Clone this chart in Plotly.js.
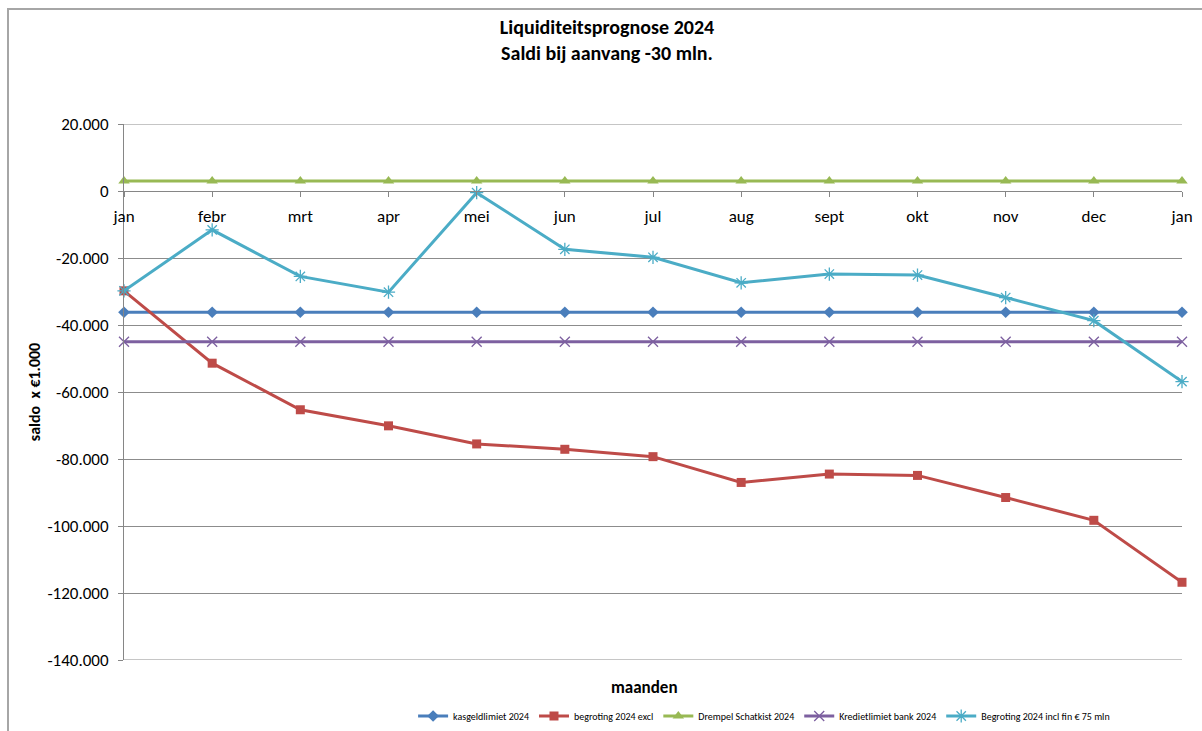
<!DOCTYPE html>
<html>
<head>
<meta charset="utf-8">
<script src="https://cdn.plot.ly/plotly-3.0.1.min.js"></script>
<style>
  html, body { margin: 0; padding: 0; background: #fff; }
  #wrap { position: relative; width: 1202px; height: 731px; overflow: hidden; }
  #frame { position: absolute; left: 7px; top: 8px; width: 1300px; height: 800px;
           border-left: 2px solid #a6a6a6; border-top: 2px solid #a6a6a6; pointer-events: none; }
  #chart { position: absolute; left: 0; top: 0; width: 1202px; height: 731px; }
</style>
</head>
<body>
<div id="wrap">
  <div id="chart"></div>
  <div id="frame"></div>
</div>
<script>
// ---- data ----
const months = ["jan", "febr", "mrt", "apr", "mei", "jun", "jul", "aug", "sept", "okt", "nov", "dec", "jan"];
const kasgeldlimiet = [-36200, -36200, -36200, -36200, -36200, -36200, -36200, -36200, -36200, -36200, -36200, -36200, -36200];
const begrotingExcl = [-29800, -51400, -65300, -70100, -75500, -77100, -79300, -87000, -84500, -84900, -91500, -98300, -116800];
const drempelSchatkist = [3000, 3000, 3000, 3000, 3000, 3000, 3000, 3000, 3000, 3000, 3000, 3000, 3000];
const kredietlimiet = [-45000, -45000, -45000, -45000, -45000, -45000, -45000, -45000, -45000, -45000, -45000, -45000, -45000];
const begrotingIncl = [-29800, -11600, -25500, -30200, -500, -17400, -19800, -27400, -24800, -25100, -31800, -38700, -56900];
const yTickVals = [20000, 0, -20000, -40000, -60000, -80000, -100000, -120000, -140000];
const yTickText = ["20.000", "0", "-20.000", "-40.000", "-60.000", "-80.000", "-100.000", "-120.000", "-140.000"];
const seriesNames = ["kasgeldlimiet 2024", "begroting 2024 excl", "Drempel Schatkist 2024", "Kredietlimiet bank 2024", "Begroting 2024 incl fin € 75 mln"];

const xIdx = months.map((m, i) => i);
const FONT = "Carlito, Calibri, 'Liberation Sans Narrow', 'Liberation Sans', Arial, sans-serif";

function trace(name, y, color, symbol, size, lineW) {
  return {
    x: xIdx, y: y, name: name, type: "scatter", mode: "lines+markers",
    line: { color: color, width: lineW || 3 },
    marker: { color: color, symbol: symbol, size: size, line: { color: color, width: (symbol.indexOf("open") >= 0 || symbol.indexOf("thin") >= 0) ? 1.3 : 0 } },
    cliponaxis: false, hoverinfo: "x+y"
  };
}

const data = [
  trace(seriesNames[0], kasgeldlimiet, "#4A7EBB", "diamond", 9),
  trace(seriesNames[1], begrotingExcl, "#BE4B48", "square", 9),
  trace(seriesNames[2], drempelSchatkist, "#98B954", "triangle-up", 10),
  trace(seriesNames[3], kredietlimiet, "#7D60A0", "x-thin-open", 10),
  trace(seriesNames[4], begrotingIncl, "#4BACC6", "asterisk-open", 11)
];

const layout = {
  width: 1202, height: 731,
  margin: { l: 124, r: 20, t: 124, b: 71, autoexpand: false },
  paper_bgcolor: "#ffffff", plot_bgcolor: "#ffffff",
  font: { family: FONT, size: 17, color: "#000" },
  showlegend: true,
  title: {
    text: "<b>Liquiditeitsprognose 2024</b><br><b>Saldi bij aanvang -30 mln.</b>",
    font: { family: FONT, size: 20, color: "#000" },
    xref: "container", x: 0.505, xanchor: "center",
    yref: "container", y: 0.954, yanchor: "middle"
  },
  xaxis: {
    range: [0, 12],
    tickvals: xIdx, ticktext: months,
    anchor: "free", position: 0.875,
    showline: true, linecolor: "#868686", linewidth: 1,
    ticks: "outside", ticklen: 5, tickcolor: "#868686",
    ticklabelstandoff: 5,
    showgrid: false, zeroline: false,
    tickfont: { family: FONT, size: 17, color: "#000" }
  },
  yaxis: {
    range: [-140000, 20000],
    tickvals: yTickVals, ticktext: yTickText,
    showline: true, linecolor: "#868686", linewidth: 1,
    ticks: "outside", ticklen: 5, tickcolor: "#868686",
    ticklabelstandoff: 6,
    showgrid: true, gridcolor: "#8c8c8c", gridwidth: 1,
    zeroline: false, automargin: true,
    tickfont: { family: FONT, size: 17, color: "#000" },
    title: { text: "<b>saldo  x €1.000</b>", font: { family: FONT, size: 16, color: "#000" }, standoff: 2 }
  },
  shapes: [
    { type: "line", xref: "paper", yref: "y", x0: 0, x1: 1, y0: -140000, y1: -140000, line: { color: "#8c8c8c", width: 1 } },
    { type: "line", xref: "paper", yref: "y", x0: 0, x1: 1, y0: 20000, y1: 20000, line: { color: "#8c8c8c", width: 1 } }
  ],
  annotations: [
    { text: "<b>maanden</b>", xref: "paper", yref: "paper", x: 0.4924, y: -0.052, showarrow: false,
      font: { family: FONT, size: 17, color: "#000" }, xanchor: "center", yanchor: "middle" }
  ],
  legend: {
    orientation: "h", xref: "paper", yref: "container",
    x: 0.605, xanchor: "center", y: 0.0205, yanchor: "middle",
    font: { family: FONT, size: 10, color: "#000" },
    bgcolor: "rgba(0,0,0,0)", itemwidth: 30
  }
};

Plotly.newPlot("chart", data, layout, { displayModeBar: false, staticPlot: true });
</script>
</body>
</html>
